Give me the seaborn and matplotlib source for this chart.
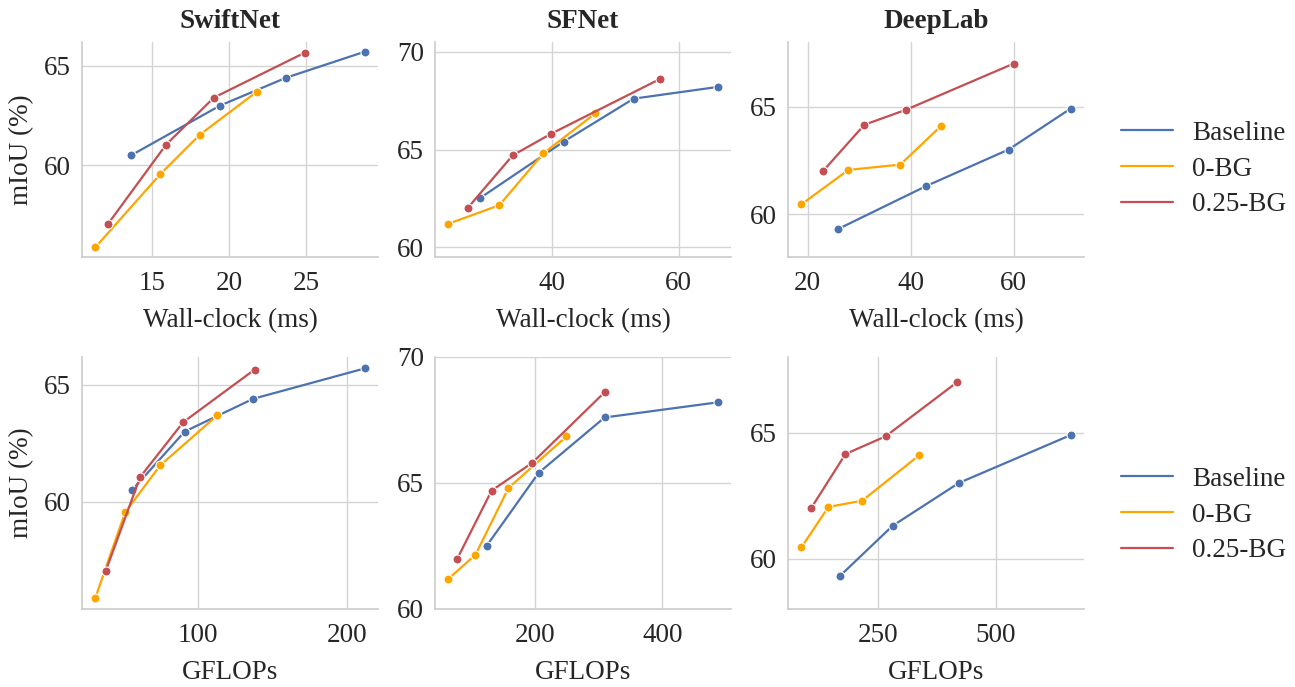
import numpy as np
import pandas as pd
import matplotlib
matplotlib.use("Agg")
import matplotlib.pyplot as plt
from matplotlib.lines import Line2D
from matplotlib.ticker import MultipleLocator
import seaborn as sns

models = ["SwiftNet", "SFNet", "DeepLab"]
methods = ["Baseline", "0-BG", "0.25-BG"]

# mIoU values (%) per model / method
swiftnet_miou = {"Baseline": [60.5, 63.0, 64.4, 65.7],
                 "0-BG": [55.9, 59.55, 61.55, 63.7],
                 "0.25-BG": [57.05, 61.05, 63.4, 65.65]}
sfnet_miou = {"Baseline": [62.5, 65.4, 67.6, 68.2],
              "0-BG": [61.2, 62.15, 64.8, 66.85],
              "0.25-BG": [62.0, 64.7, 65.8, 68.6]}
deeplab_miou = {"Baseline": [59.3, 61.3, 63.0, 64.9],
                "0-BG": [60.45, 62.05, 62.3, 64.1],
                "0.25-BG": [62.0, 64.15, 64.85, 67.0]}

# wall-clock (ms)
swiftnet_ms = {"Baseline": [13.6, 19.4, 23.7, 28.8],
               "0-BG": [11.3, 15.5, 18.1, 21.8],
               "0.25-BG": [12.1, 15.9, 19.0, 24.9]}
sfnet_ms = {"Baseline": [28.7, 41.9, 52.9, 66.1],
            "0-BG": [23.8, 31.8, 38.7, 46.9],
            "0.25-BG": [26.8, 33.9, 39.9, 57.0]}
deeplab_ms = {"Baseline": [25.9, 43.0, 59.0, 71.0],
              "0-BG": [18.8, 27.9, 38.0, 45.9],
              "0.25-BG": [23.0, 31.0, 39.1, 60.0]}

# GFLOPs
swiftnet_gflops = {"Baseline": [55.7, 91, 137, 212],
                   "0-BG": [31, 51, 74.5, 113],
                   "0.25-BG": [38, 61, 90, 138]}
sfnet_gflops = {"Baseline": [123, 205, 309, 487],
                "0-BG": [63, 105.5, 157.5, 249],
                "0.25-BG": [77, 131, 195, 309]}
deeplab_gflops = {"Baseline": [168.6, 281, 421.6, 659],
                  "0-BG": [87.5, 144.7, 216.7, 337.5],
                  "0.25-BG": [108, 181, 266, 418]}

miou = {"SwiftNet": swiftnet_miou, "SFNet": sfnet_miou, "DeepLab": deeplab_miou}
ms = {"SwiftNet": swiftnet_ms, "SFNet": sfnet_ms, "DeepLab": deeplab_ms}
gflops = {"SwiftNet": swiftnet_gflops, "SFNet": sfnet_gflops, "DeepLab": deeplab_gflops}

rows = []
for m in models:
    for meth in methods:
        for i in range(len(miou[m][meth])):
            rows.append({"model": m, "method": meth, "idx": i,
                         "miou": miou[m][meth][i], "ms": ms[m][meth][i],
                         "gflops": gflops[m][meth][i]})
df = pd.DataFrame(rows)

palette = {"Baseline": "#4C72B0", "0-BG": "#FFA500", "0.25-BG": "#C44E52"}

sns.set_theme(style="whitegrid")
plt.rcParams["font.family"] = ["Liberation Serif", "DejaVu Serif"]
FS = 19.5

fig = plt.figure(figsize=(12.95, 6.87), dpi=100)
W, H = 1295, 687
lefts = [82, 435, 788]
width = 296
row_tb = [(42, 257), (357, 609)]
legend_centers = [169, 515]

ylims = {"SwiftNet": None, "SFNet": [(59.5, 70.5), (60, 70)], "DeepLab": [(58, 68), (58, 68)]}
xlocs = {"SwiftNet": [5, 100], "SFNet": [20, 200], "DeepLab": [20, 250]}

for r, (xcol, xlabel) in enumerate([("ms", "Wall-clock (ms)"), ("gflops", "GFLOPs")]):
    top, bot = row_tb[r]
    for c, m in enumerate(models):
        ax = fig.add_axes([lefts[c] / W, 1 - bot / H, width / W, (bot - top) / H])
        sub = df[df["model"] == m]
        sns.lineplot(data=sub, x=xcol, y="miou", hue="method", hue_order=methods,
                     palette=palette, marker="o", markersize=6.5, markeredgecolor="white",
                     markeredgewidth=0.8, linewidth=1.6, sort=False, estimator=None,
                     units="method", legend=False, ax=ax)
        if ylims[m] is not None:
            ax.set_ylim(*ylims[m][r])
        ax.yaxis.set_major_locator(MultipleLocator(5))
        ax.xaxis.set_major_locator(MultipleLocator(xlocs[m][r]))
        ax.set_xlabel(xlabel, fontsize=FS, labelpad=9)
        if c == 0:
            ax.set_ylabel("mIoU (%)", fontsize=FS, labelpad=7)
        else:
            ax.set_ylabel("")
        if r == 0:
            ax.set_title(m, fontsize=FS, fontweight="bold", pad=10)
        ax.tick_params(axis="x", labelsize=FS, pad=10, length=0)
        ax.tick_params(axis="y", labelsize=FS, pad=8, length=0)
        sns.despine(ax=ax)
        for s in ["left", "bottom"]:
            ax.spines[s].set_color("#cccccc")
            ax.spines[s].set_linewidth(1.2)
        ax.grid(True, color="#d4d4d4", linewidth=1.0)

    handles = [Line2D([0], [0], color=palette[k], linewidth=1.6) for k in methods]
    yc = 1 - legend_centers[r] / H
    fig.legend(handles, methods, loc="center left", bbox_to_anchor=(1097 / W, yc),
               frameon=False, fontsize=FS, handlelength=1.9, handletextpad=0.7,
               labelspacing=0.4)

fig.savefig("out.png", dpi=100)
